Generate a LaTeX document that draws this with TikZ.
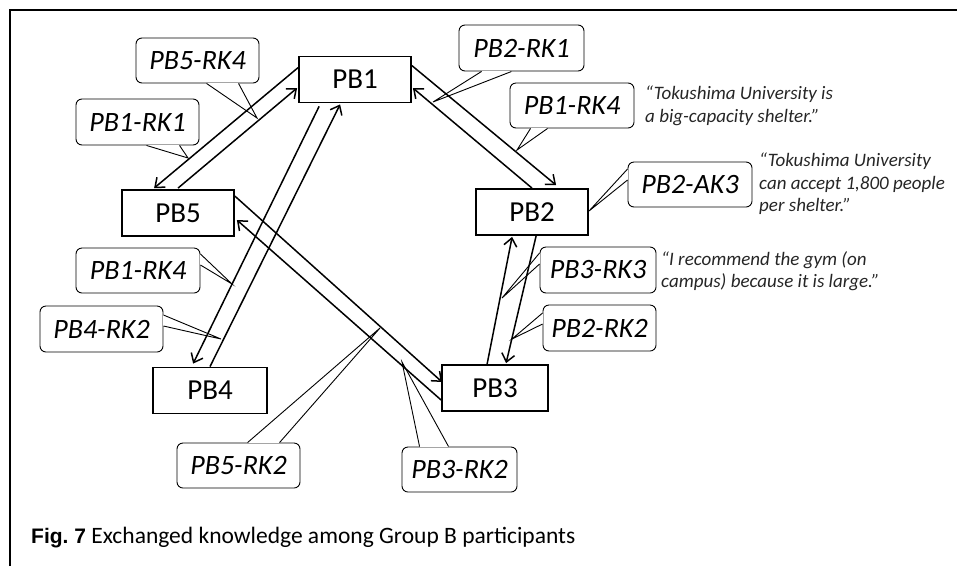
\documentclass[tikz,border=0pt]{standalone}
\usepackage{fontspec}
\setmainfont{Carlito}
\newfontfamily\capbold{Liberation Sans}
\usetikzlibrary{arrows.meta}
\tikzset{
  pbox/.style={draw, line width=1.8pt, minimum width=112pt, minimum height=46pt, inner sep=0pt, font=\fontsize{29}{32}\selectfont},
  cobox/.style={draw, line width=0.9pt, rounded corners=6pt, inner sep=0pt, font=\fontsize{28}{32}\selectfont\itshape},
  arr/.style={line width=1.5pt, -{Straight Barb[length=8pt,width=13pt,line width=1.5pt]}},
  quote/.style={anchor=north west, align=left, inner sep=0pt, text=black!85, font=\fontsize{19}{22.5}\selectfont\itshape},
}
\newcommand\ptr[3]{\draw[white,line width=1.8pt] #1 -- #2; \draw[line width=0.9pt] #1 -- #3 -- #2;}
\begin{document}
\begin{tikzpicture}[x=1pt,y=-1pt]
\useasboundingbox (0,0) rectangle (957,566);
% frame
\draw[line width=2pt] (10,566) -- (10,10) -- (957,10);

% main nodes
\node[pbox] (PB1) at (355,79.5) {PB1};
\node[pbox] (PB5) at (178,213) {PB5};
\node[pbox, minimum width=114pt] (PB4) at (210,390.5) {PB4};
\node[pbox] (PB2) at (532,212) {PB2};
\node[pbox, minimum width=106pt] (PB3) at (495,388) {PB3};

% connectors
\draw[arr] ([shift={(0,12)}]PB1.north west) -- ([shift={(33,-1)}]PB5.north west);
\draw[arr] ([shift={(0,-1)}]PB5.north) -- ([shift={(-1,8.5)}]PB1.west);
\draw[arr] ([shift={(21,3)}]PB1.south west) -- ([shift={(41,-3)}]PB4.north west);
\draw[arr] (PB4.north) -- ([shift={(42,1)}]PB1.south west);
\draw[arr] ([shift={(0,10)}]PB1.north east) -- ([shift={(81,-3)}]PB2.north west);
\draw[arr] (PB2.north) -- ([shift={(1,8.5)}]PB1.east);
\draw[arr] ([shift={(46,0)}]PB3.north west) -- ([shift={(37,1)}]PB2.south west);
\draw[arr] ([shift={(61,0)}]PB2.south west) -- ([shift={(65,-1)}]PB3.north west);
\draw[arr] ([shift={(0,7)}]PB5.north east) -- ([shift={(1,-6)}]PB3.west);
\draw[arr] ([shift={(0,12)}]PB3.west) -- ([shift={(2,7)}]PB5.east);

% callouts
\node[cobox, minimum width=123pt, minimum height=45pt] (c1) at (197.5,60.5) {PB5-RK4};
\ptr{([xshift=71]c1.south west)}{([xshift=103]c1.south west)}{(257,118)}
\node[cobox, minimum width=123pt, minimum height=46pt] (c2) at (137.5,122) {PB1-RK1};
\ptr{([xshift=71]c2.south west)}{([xshift=104]c2.south west)}{(188,158)}
\node[cobox, minimum width=125pt, minimum height=46pt] (c3) at (521.5,48) {PB2-RK1};
\ptr{([xshift=23]c3.south west)}{([xshift=53]c3.south west)}{(433,102)}
\node[cobox, minimum width=124pt, minimum height=45pt] (c4) at (572,105.5) {PB1-RK4};
\ptr{([xshift=21]c4.south west)}{([xshift=38]c4.south west)}{(517,150)}
\node[cobox, minimum width=124pt, minimum height=45pt] (c5) at (690,184.5) {PB2-AK3};
\ptr{([yshift=4.5]c5.west)}{([yshift=15.5]c5.west)}{(589,211)}
\node[cobox, minimum width=116pt, minimum height=46pt] (c6) at (598,270) {PB3-RK3};
\ptr{([yshift=6]c6.west)}{([yshift=17]c6.west)}{(502,298)}
\node[cobox, minimum width=113pt, minimum height=46pt] (c7) at (599.5,328) {PB2-RK2};
\ptr{([yshift=4]c7.west)}{([yshift=15]c7.west)}{(512,339)}
\node[cobox, minimum width=124pt, minimum height=45pt] (c8) at (138,270.5) {PB1-RK4};
\ptr{([yshift=5.5]c8.east)}{([yshift=16.5]c8.east)}{(232,284)}
\node[cobox, minimum width=123pt, minimum height=46pt] (c9) at (101.5,329) {PB4-RK2};
\ptr{([yshift=3]c9.east)}{([yshift=14]c9.east)}{(221,339)}
\node[cobox, minimum width=123pt, minimum height=45pt] (c10) at (238.5,465.5) {PB5-RK2};
\ptr{([xshift=71]c10.north west)}{([xshift=103]c10.north west)}{(380,328)}
\node[cobox, minimum width=115pt, minimum height=45pt] (c11) at (459.5,469.5) {PB3-RK2};
\ptr{([xshift=18]c11.north west)}{([xshift=47]c11.north west)}{(402,362)}

% quotes
\node[quote] (q1) at (645,86) {“Tokushima University is\\a big-capacity shelter.”};
\node[quote] (q2) at (759,153) {“Tokushima University\\can accept 1,800 people\\per shelter.”};
\node[quote] (q3) at (661,251) {“I recommend the gym (on\\campus) because it is large.”};

% caption
\node[anchor=base west, inner sep=0pt, font=\fontsize{23.5}{26}\selectfont] (cap) at (31,543) {{\capbold\bfseries\fontsize{21}{26}\selectfont Fig.\ 7} Exchanged knowledge among Group B participants};
\end{tikzpicture}
\end{document}
